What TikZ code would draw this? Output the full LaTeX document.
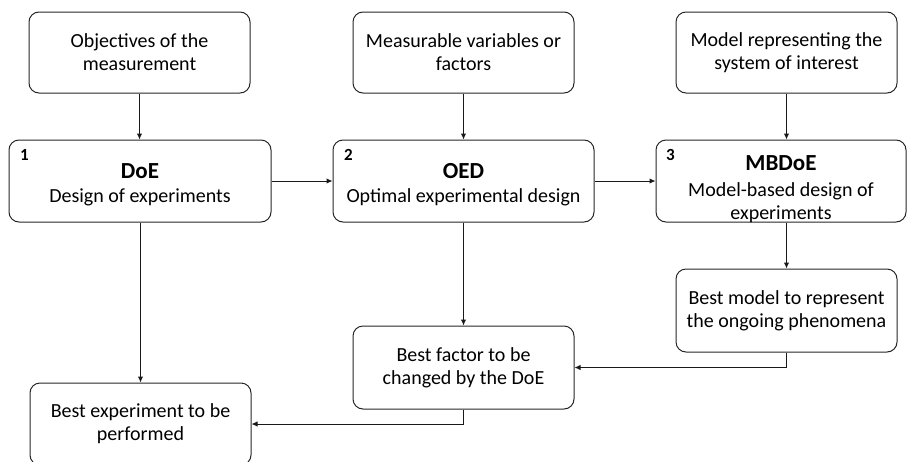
\documentclass[tikz,border=0pt]{standalone}
\usepackage{fontspec}
\setmainfont{Carlito}
\usetikzlibrary{arrows.meta,calc}
\newcommand\headfont{\bfseries\fontsize{23}{24}\selectfont}
\begin{document}
\begin{tikzpicture}[x=1pt,y=-1pt,
  frame/.style={draw=black!85,line width=1pt,rounded corners=10pt,inner sep=0pt},
  box/.style={frame,minimum width=#1,align=center,font=\fontsize{20}{23}\selectfont},
  box/.default=221pt,
  words/.style={inner sep=0pt,align=center,font=\fontsize{20}{23}\selectfont},
  tag/.style={font=\bfseries\fontsize{17}{18}\selectfont,inner sep=0pt},
  flow/.style={draw=black!90,line width=1pt,-{Latex[length=6pt,width=5.5pt]}}]
\useasboundingbox (0,0) rectangle (907,461);

% inputs
\node[box,minimum height=81pt] (obj) at (139.5,52.5) {Objectives of the\\measurement};
\node[box,minimum height=81pt] (meas) at (463.5,52.5) {Measurable variables or\\factors};
\node[box,minimum height=81pt] (modl) at (786.5,52.5) {Model representing the\\system of interest};

% methods: frames and their texts
\node[frame,minimum width=262pt,minimum height=82pt] (doe) at (140,181) {};
\node[frame,minimum width=261pt,minimum height=82pt] (oed) at (463.5,181) {};
\node[frame,minimum width=250pt,minimum height=82pt] (mbdoe) at (781,181) {};

\node[words] (doeT) at (140,185)
  {{\headfont DoE}\\[1pt]Design of experiments};
\node[words] (oedT) at (463.5,185)
  {{\headfont OED}\\[1pt]Optimal experimental design};
\node[words] (mbdoeT) at (781,189)
  {{\headfont MBDoE}\\[3pt]Model-based design of\\experiments};

\node[tag] (n1) at ($(doe.north west)+(16,15)$) {1};
\node[tag] (n2) at ($(oed.north west)+(16,15)$) {2};
\node[tag] (n3) at ($(mbdoe.north west)+(15,15)$) {3};

% outcomes
\node[box,minimum height=83pt] (bmodel) at (786.5,310.5) {Best model to represent\\the ongoing phenomena};
\node[box,minimum height=83pt] (bfactor) at (463.5,367.5) {Best factor to be\\changed by the DoE};
\node[box,minimum height=82pt] (bexp) at (140.5,424) {Best experiment to be\\performed};

% connectors
\draw[flow] (obj.south) -- (obj.south |- doe.north);
\draw[flow] (meas.south) -- (meas.south |- oed.north);
\draw[flow] (modl.south) -- (modl.south |- mbdoe.north);
\draw[flow] (doe.east) -- (oed.west);
\draw[flow] (oed.east) -- (mbdoe.west);
\draw[flow] (doe.south -| bexp.north) -- (bexp.north);
\draw[flow] (oed.south) -- (bfactor.north);
\draw[flow] (mbdoe.south -| bmodel.north) -- (bmodel.north);
\draw[flow] (bmodel.south) |- (bfactor.east);
\draw[flow] (bfactor.south) |- (bexp.east);
\end{tikzpicture}
\end{document}
